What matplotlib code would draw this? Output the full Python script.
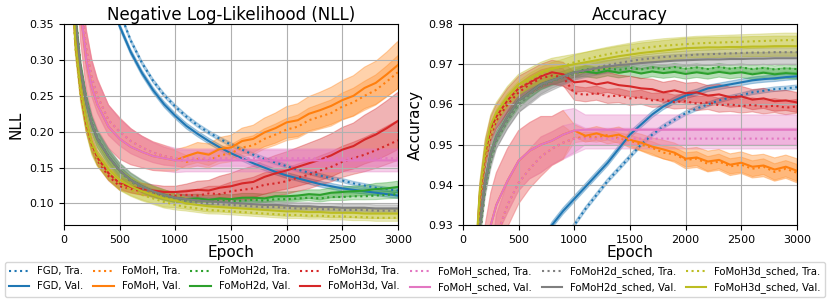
import matplotlib
matplotlib.use("Agg")
import matplotlib.pyplot as plt
from matplotlib.lines import Line2D

epochs = [0, 50, 100, 150, 200, 250, 300, 400, 500, 600, 700, 800, 900, 1000,
          1100, 1200, 1300, 1400, 1500, 1600, 1700, 1800, 1900, 2000,
          2100, 2200, 2300, 2400, 2500, 2600, 2700, 2800, 2900, 3000]

models = ["FGD", "FoMoH", "FoMoH2d", "FoMoH3d", "FoMoH_sched", "FoMoH2d_sched", "FoMoH3d_sched"]
colors = ["tab:blue", "tab:orange", "tab:green", "tab:red", "tab:pink", "tab:gray", "tab:olive"]

# ---------------- NLL ----------------
nll_fgd_tra = [2.4, 1.6, 1.1, 0.86, 0.7, 0.6, 0.52, 0.43, 0.367, 0.327, 0.296, 0.271, 0.251, 0.235,
               0.221, 0.209, 0.199, 0.19, 0.182, 0.175, 0.168, 0.162, 0.157, 0.152,
               0.147, 0.143, 0.139, 0.135, 0.132, 0.128, 0.125, 0.122, 0.12, 0.118]
nll_fgd_val = [2.3, 1.5, 1.0, 0.8, 0.65, 0.56, 0.49, 0.4, 0.347, 0.311, 0.282, 0.258, 0.238, 0.222,
               0.208, 0.197, 0.187, 0.178, 0.17, 0.163, 0.156, 0.15, 0.144, 0.139,
               0.135, 0.131, 0.127, 0.124, 0.121, 0.119, 0.117, 0.115, 0.113, 0.111]

nll_fomoh_sched_tra = [2.0, 0.9, 0.52, 0.385, 0.315, 0.275, 0.25, 0.216, 0.2, 0.187, 0.178, 0.171, 0.166, 0.163,
                       0.163, 0.163, 0.163, 0.163, 0.163, 0.163, 0.163, 0.163, 0.163, 0.163,
                       0.163, 0.163, 0.163, 0.163, 0.163, 0.163, 0.163, 0.163, 0.163, 0.163]
nll_fomoh_sched_val = [2.0, 0.88, 0.5, 0.37, 0.3, 0.262, 0.238, 0.207, 0.19, 0.179, 0.172, 0.166, 0.163, 0.16,
                       0.16, 0.16, 0.16, 0.16, 0.16, 0.16, 0.16, 0.16, 0.16, 0.16,
                       0.16, 0.16, 0.16, 0.16, 0.16, 0.16, 0.16, 0.16, 0.16, 0.16]
nll_fomoh_tra = nll_fomoh_sched_tra[:14] + [
    0.158, 0.162, 0.16, 0.167, 0.17, 0.178, 0.181, 0.19, 0.196, 0.203,
    0.207, 0.216, 0.221, 0.226, 0.235, 0.241, 0.25, 0.258, 0.27, 0.283]
nll_fomoh_val = nll_fomoh_sched_val[:14] + [
    0.166, 0.171, 0.168, 0.176, 0.178, 0.187, 0.19, 0.199, 0.205, 0.213,
    0.216, 0.225, 0.23, 0.236, 0.244, 0.25, 0.261, 0.268, 0.28, 0.293]

nll_fomoh2d_sched_tra = [2.0, 0.56, 0.37, 0.29, 0.245, 0.213, 0.192, 0.165, 0.145, 0.131, 0.121, 0.114, 0.109, 0.105,
                         0.103, 0.101, 0.1, 0.099, 0.098, 0.097, 0.096, 0.095, 0.095, 0.094,
                         0.093, 0.093, 0.092, 0.092, 0.091, 0.091, 0.091, 0.09, 0.09, 0.09]
nll_fomoh2d_sched_val = [2.0, 0.55, 0.36, 0.285, 0.24, 0.21, 0.19, 0.165, 0.146, 0.133, 0.124, 0.117, 0.112, 0.108,
                         0.106, 0.104, 0.103, 0.102, 0.101, 0.1, 0.099, 0.098, 0.098, 0.097,
                         0.096, 0.096, 0.095, 0.095, 0.094, 0.094, 0.094, 0.093, 0.093, 0.093]
nll_fomoh2d_tra = nll_fomoh2d_sched_tra[:14] + [
    0.103, 0.104, 0.102, 0.104, 0.103, 0.104, 0.105, 0.104, 0.106, 0.106,
    0.107, 0.108, 0.107, 0.109, 0.109, 0.11, 0.11, 0.111, 0.112, 0.113]
nll_fomoh2d_val = nll_fomoh2d_sched_val[:14] + [
    0.106, 0.107, 0.105, 0.107, 0.106, 0.108, 0.108, 0.107, 0.11, 0.11,
    0.111, 0.113, 0.112, 0.115, 0.116, 0.117, 0.118, 0.12, 0.121, 0.123]

nll_fomoh3d_sched_tra = [2.0, 0.49, 0.32, 0.25, 0.208, 0.178, 0.162, 0.143, 0.128, 0.119, 0.112, 0.107, 0.102, 0.098,
                         0.095, 0.093, 0.091, 0.09, 0.089, 0.088, 0.087, 0.086, 0.085, 0.084,
                         0.084, 0.083, 0.083, 0.082, 0.082, 0.081, 0.081, 0.08, 0.08, 0.08]
nll_fomoh3d_sched_val = [2.0, 0.5, 0.33, 0.26, 0.215, 0.185, 0.168, 0.148, 0.133, 0.124, 0.117, 0.112, 0.107, 0.104,
                         0.1, 0.098, 0.096, 0.095, 0.094, 0.093, 0.092, 0.091, 0.09, 0.089,
                         0.089, 0.088, 0.088, 0.087, 0.087, 0.087, 0.086, 0.086, 0.086, 0.086]
nll_fomoh3d_tra = [2.0, 0.5, 0.33, 0.255, 0.21, 0.18, 0.16, 0.138, 0.124, 0.12, 0.117, 0.114, 0.112, 0.111,
                   0.112, 0.111, 0.114, 0.113, 0.117, 0.119, 0.121, 0.126, 0.128, 0.131,
                   0.136, 0.14, 0.146, 0.151, 0.158, 0.163, 0.168, 0.174, 0.181, 0.188]
nll_fomoh3d_val = [2.0, 0.5, 0.33, 0.258, 0.212, 0.183, 0.164, 0.142, 0.128, 0.123, 0.12, 0.118, 0.116, 0.116,
                   0.117, 0.119, 0.118, 0.122, 0.124, 0.128, 0.13, 0.137, 0.142, 0.146,
                   0.151, 0.156, 0.161, 0.167, 0.175, 0.18, 0.189, 0.196, 0.205, 0.215]

nll_band = {
    "FGD": 0.004,
    "FoMoH": [0.05, 0.05, 0.05, 0.045, 0.04, 0.037, 0.034, 0.03, 0.028, 0.025, 0.022, 0.02, 0.018, 0.015,
              0.013, 0.014, 0.015, 0.016, 0.017, 0.018, 0.019, 0.02, 0.021, 0.022,
              0.023, 0.024, 0.025, 0.026, 0.027, 0.028, 0.029, 0.03, 0.031, 0.033],
    "FoMoH2d": [0.012, 0.012, 0.012, 0.012, 0.012, 0.012, 0.012, 0.011, 0.01, 0.009, 0.008, 0.007, 0.007, 0.006,
                0.006, 0.006, 0.006, 0.006, 0.006, 0.006, 0.006, 0.006, 0.006, 0.006,
                0.006, 0.006, 0.007, 0.007, 0.007, 0.007, 0.007, 0.008, 0.008, 0.008],
    "FoMoH3d": [0.012, 0.012, 0.012, 0.012, 0.012, 0.011, 0.01, 0.009, 0.008, 0.008, 0.008, 0.008, 0.008, 0.008,
                0.01, 0.012, 0.014, 0.016, 0.018, 0.02, 0.022, 0.024, 0.025, 0.026,
                0.027, 0.028, 0.029, 0.03, 0.031, 0.032, 0.034, 0.036, 0.038, 0.04],
    "FoMoH_sched": [0.05, 0.05, 0.05, 0.045, 0.04, 0.037, 0.034, 0.03, 0.028, 0.025, 0.022, 0.02, 0.018, 0.017,
                    0.016, 0.016, 0.016, 0.016, 0.016, 0.016, 0.016, 0.016, 0.016, 0.016,
                    0.016, 0.016, 0.016, 0.016, 0.016, 0.016, 0.016, 0.016, 0.016, 0.016],
    "FoMoH2d_sched": [0.012, 0.012, 0.012, 0.012, 0.012, 0.012, 0.012, 0.012, 0.011, 0.01, 0.009, 0.008, 0.007, 0.006,
                      0.005, 0.005, 0.005, 0.005, 0.005, 0.005, 0.005, 0.005, 0.005, 0.005,
                      0.005, 0.005, 0.005, 0.005, 0.005, 0.005, 0.005, 0.005, 0.005, 0.005],
    "FoMoH3d_sched": [0.015, 0.015, 0.015, 0.015, 0.015, 0.015, 0.015, 0.015, 0.014, 0.013, 0.012, 0.012, 0.012, 0.01,
                      0.008, 0.008, 0.008, 0.007, 0.007, 0.007, 0.007, 0.007, 0.007, 0.007,
                      0.007, 0.007, 0.007, 0.007, 0.007, 0.007, 0.007, 0.007, 0.007, 0.007],
}

# ---------------- Accuracy ----------------
acc_fgd_tra = [0.5, 0.78, 0.84, 0.86, 0.87, 0.88, 0.885, 0.895, 0.903, 0.91, 0.916, 0.922, 0.926, 0.93,
               0.934, 0.9375, 0.941, 0.944, 0.947, 0.95, 0.9525, 0.9545, 0.9562, 0.9578,
               0.959, 0.96, 0.961, 0.9617, 0.9623, 0.963, 0.9634, 0.9638, 0.964, 0.9643]
acc_fgd_val = [0.5, 0.8, 0.85, 0.87, 0.88, 0.89, 0.895, 0.905, 0.912, 0.919, 0.925, 0.93, 0.9335, 0.9365,
               0.9395, 0.9425, 0.9455, 0.949, 0.9525, 0.955, 0.9575, 0.9595, 0.961, 0.9622,
               0.963, 0.964, 0.9645, 0.965, 0.9655, 0.966, 0.9663, 0.9665, 0.9668, 0.967]

acc_fomoh_sched_tra = [0.2, 0.68, 0.83, 0.875, 0.9, 0.915, 0.927, 0.935, 0.9405, 0.944, 0.947, 0.949, 0.9505, 0.9515,
                       0.9515, 0.9515, 0.9515, 0.9515, 0.9515, 0.9515, 0.9515, 0.9515, 0.9515, 0.9515,
                       0.9515, 0.9515, 0.9515, 0.9515, 0.9515, 0.9515, 0.9515, 0.9515, 0.9515, 0.9515]
acc_fomoh_sched_val = [0.2, 0.7, 0.85, 0.89, 0.922, 0.93, 0.935, 0.941, 0.946, 0.9485, 0.95, 0.951, 0.9525, 0.9535,
                       0.9537, 0.9537, 0.9537, 0.9537, 0.9537, 0.9537, 0.9537, 0.9537, 0.9537, 0.9537,
                       0.9537, 0.9537, 0.9537, 0.9537, 0.9537, 0.9537, 0.9537, 0.9537, 0.9537, 0.9537]
acc_fomoh_tra = acc_fomoh_sched_tra[:14] + [
    0.952, 0.9518, 0.9524, 0.9516, 0.951, 0.95, 0.9492, 0.948, 0.9476, 0.9462,
    0.9465, 0.9452, 0.9458, 0.9446, 0.945, 0.944, 0.9445, 0.9432, 0.944, 0.943]
acc_fomoh_val = acc_fomoh_sched_val[:14] + [
    0.9522, 0.9528, 0.952, 0.9525, 0.9512, 0.9505, 0.9495, 0.9488, 0.948, 0.9465,
    0.9468, 0.9458, 0.9462, 0.945, 0.9455, 0.9445, 0.9448, 0.9438, 0.9445, 0.9435]

acc_fomoh2d_sched_tra = [0.3, 0.79, 0.9, 0.927, 0.939, 0.946, 0.951, 0.956, 0.96, 0.9625, 0.9645, 0.9658, 0.9667, 0.9676,
                         0.9685, 0.9692, 0.9698, 0.9703, 0.9708, 0.9712, 0.9715, 0.9718, 0.972, 0.9722,
                         0.9724, 0.9725, 0.9726, 0.9727, 0.9728, 0.9729, 0.9729, 0.973, 0.973, 0.973]
acc_fomoh2d_sched_val = [0.3, 0.8, 0.905, 0.93, 0.941, 0.948, 0.952, 0.957, 0.961, 0.963, 0.965, 0.966, 0.967, 0.968,
                         0.9685, 0.969, 0.9694, 0.9698, 0.97, 0.9703, 0.9705, 0.9707, 0.9709, 0.971,
                         0.9711, 0.9712, 0.9712, 0.9713, 0.9713, 0.9714, 0.9714, 0.9715, 0.9715, 0.9715]
acc_fomoh2d_tra = acc_fomoh2d_sched_tra[:14] + [
    0.9688, 0.9684, 0.969, 0.9686, 0.9691, 0.9687, 0.9692, 0.9688, 0.9693, 0.9689,
    0.9692, 0.9688, 0.9693, 0.9689, 0.9692, 0.9688, 0.9691, 0.9687, 0.969, 0.9688]
acc_fomoh2d_val = acc_fomoh2d_sched_val[:14] + [
    0.9682, 0.9678, 0.9684, 0.9679, 0.9683, 0.9677, 0.9682, 0.9678, 0.9681, 0.9676,
    0.968, 0.9676, 0.9681, 0.9677, 0.968, 0.9675, 0.9679, 0.9675, 0.9678, 0.9676]

acc_fomoh3d_sched_tra = [0.3, 0.81, 0.912, 0.936, 0.947, 0.953, 0.957, 0.961, 0.964, 0.966, 0.9675, 0.9687, 0.9695, 0.9705,
                         0.9712, 0.9719, 0.9725, 0.973, 0.9735, 0.974, 0.9743, 0.9746, 0.9748, 0.975,
                         0.9752, 0.9753, 0.9754, 0.9755, 0.9756, 0.9757, 0.9758, 0.9759, 0.976, 0.976]
acc_fomoh3d_sched_val = [0.3, 0.82, 0.915, 0.938, 0.949, 0.955, 0.958, 0.962, 0.965, 0.9665, 0.968, 0.969, 0.9695, 0.97,
                         0.9705, 0.971, 0.9715, 0.972, 0.9724, 0.9728, 0.9731, 0.9734, 0.9737, 0.974,
                         0.9741, 0.9742, 0.9742, 0.9743, 0.9743, 0.9744, 0.9744, 0.9745, 0.9745, 0.9745]
acc_fomoh3d_tra = [0.3, 0.8, 0.91, 0.935, 0.946, 0.952, 0.956, 0.96, 0.963, 0.965, 0.9665, 0.9672, 0.9668, 0.9628,
                   0.9624, 0.9628, 0.962, 0.9622, 0.9615, 0.9618, 0.961, 0.9612, 0.9606, 0.9608,
                   0.9602, 0.9605, 0.9598, 0.96, 0.9596, 0.9599, 0.9594, 0.9597, 0.9592, 0.9595]
acc_fomoh3d_val = [0.3, 0.81, 0.913, 0.937, 0.948, 0.954, 0.957, 0.961, 0.964, 0.9655, 0.967, 0.968, 0.9675, 0.9655,
                   0.9658, 0.965, 0.9655, 0.9648, 0.9645, 0.964, 0.9638, 0.963, 0.9635, 0.9628,
                   0.963, 0.9622, 0.9625, 0.9618, 0.962, 0.9612, 0.9615, 0.9608, 0.961, 0.9605]

acc_band = {
    "FGD": 0.0008,
    "FoMoH": [0.008, 0.008, 0.008, 0.008, 0.008, 0.008, 0.008, 0.008, 0.0075, 0.007, 0.007, 0.006, 0.006, 0.0015,
              0.0016, 0.0017, 0.0018, 0.0019, 0.002, 0.0021, 0.0022, 0.0023, 0.0024, 0.0025,
              0.0025, 0.0026, 0.0026, 0.0027, 0.0027, 0.0028, 0.0028, 0.0029, 0.0029, 0.003],
    "FoMoH2d": 0.0013,
    "FoMoH3d": [0.003, 0.003, 0.003, 0.003, 0.003, 0.003, 0.003, 0.003, 0.003, 0.003, 0.003, 0.003, 0.003, 0.0025,
                0.0025, 0.0025, 0.0025, 0.0025, 0.0025, 0.0025, 0.0025, 0.0025, 0.0025, 0.0025,
                0.0025, 0.0025, 0.0025, 0.0025, 0.0025, 0.0025, 0.0025, 0.0025, 0.0025, 0.0025],
    "FoMoH_sched": [0.008, 0.008, 0.008, 0.008, 0.008, 0.008, 0.008, 0.008, 0.0075, 0.007, 0.007, 0.006, 0.006, 0.0055,
                    0.0037, 0.0037, 0.0037, 0.0037, 0.0037, 0.0037, 0.0037, 0.0037, 0.0037, 0.0037,
                    0.0037, 0.0037, 0.0037, 0.0037, 0.0037, 0.0037, 0.0037, 0.0037, 0.0037, 0.0037],
    "FoMoH2d_sched": [0.003, 0.003, 0.003, 0.003, 0.003, 0.003, 0.003, 0.003, 0.003, 0.003, 0.0028, 0.0025, 0.0022, 0.002,
                      0.0018, 0.0017, 0.0016, 0.0015, 0.0015, 0.0015, 0.0015, 0.0015, 0.0015, 0.0015,
                      0.0015, 0.0015, 0.0015, 0.0015, 0.0015, 0.0015, 0.0015, 0.0015, 0.0015, 0.0015],
    "FoMoH3d_sched": 0.0025,
}

nll_data = {
    "FGD": (nll_fgd_tra, nll_fgd_val),
    "FoMoH": (nll_fomoh_tra, nll_fomoh_val),
    "FoMoH2d": (nll_fomoh2d_tra, nll_fomoh2d_val),
    "FoMoH3d": (nll_fomoh3d_tra, nll_fomoh3d_val),
    "FoMoH_sched": (nll_fomoh_sched_tra, nll_fomoh_sched_val),
    "FoMoH2d_sched": (nll_fomoh2d_sched_tra, nll_fomoh2d_sched_val),
    "FoMoH3d_sched": (nll_fomoh3d_sched_tra, nll_fomoh3d_sched_val),
}
acc_data = {
    "FGD": (acc_fgd_tra, acc_fgd_val),
    "FoMoH": (acc_fomoh_tra, acc_fomoh_val),
    "FoMoH2d": (acc_fomoh2d_tra, acc_fomoh2d_val),
    "FoMoH3d": (acc_fomoh3d_tra, acc_fomoh3d_val),
    "FoMoH_sched": (acc_fomoh_sched_tra, acc_fomoh_sched_val),
    "FoMoH2d_sched": (acc_fomoh2d_sched_tra, acc_fomoh2d_sched_val),
    "FoMoH3d_sched": (acc_fomoh3d_sched_tra, acc_fomoh3d_sched_val),
}


def banda(valores, largura):
    if isinstance(largura, (int, float)):
        largura = [largura] * len(valores)
    baixo = [v - w for v, w in zip(valores, largura)]
    alto = [v + w for v, w in zip(valores, largura)]
    return baixo, alto


def desenhar(ax, dados, bandas):
    for nome, cor in zip(models, colors):
        tra, val = dados[nome]
        # faixa de treino um pouco mais estreita
        larg = bandas[nome]
        larg_tra = larg * 0.7 if isinstance(larg, float) else [w * 0.7 for w in larg]
        lo, hi = banda(tra, larg_tra)
        ax.fill_between(epochs, lo, hi, color=cor, alpha=0.3, linewidth=0.8)
        ax.plot(epochs, tra, color=cor, linestyle=':', linewidth=1.5)
        lo, hi = banda(val, larg)
        ax.fill_between(epochs, lo, hi, color=cor, alpha=0.35, linewidth=0.8)
        ax.plot(epochs, val, color=cor, linestyle='-', linewidth=1.5)
    ax.set_xlim(0, 3000)
    ax.grid(True)
    ax.tick_params(labelsize=8)


fig = plt.figure(figsize=(8.3, 2.99), dpi=100)
ax1 = fig.add_axes([0.0771, 0.2475, 0.4024, 0.672])
ax2 = fig.add_axes([0.5578, 0.2475, 0.4024, 0.672])

desenhar(ax1, nll_data, nll_band)
ax1.set_ylim(0.07, 0.35)
ax1.set_title("Negative Log-Likelihood (NLL)", fontsize=12, pad=3)
ax1.set_xlabel("Epoch", fontsize=11, labelpad=0)
ax1.set_ylabel("NLL", fontsize=11)

desenhar(ax2, acc_data, acc_band)
ax2.set_ylim(0.93, 0.98)
ax2.set_title("Accuracy", fontsize=12, pad=3)
ax2.set_xlabel("Epoch", fontsize=11, labelpad=0)
ax2.set_ylabel("Accuracy", fontsize=11)

handles = []
labels = []
for nome, cor in zip(models, colors):
    handles.append(Line2D([], [], color=cor, linestyle=':', linewidth=1.5))
    labels.append(f"{nome}, Tra.")
    handles.append(Line2D([], [], color=cor, linestyle='-', linewidth=1.5))
    labels.append(f"{nome}, Val.")

fig.legend(handles, labels, loc='lower left', bbox_to_anchor=(0.006, 0.006, 0.988, 0.13),
           mode='expand', ncol=7, fontsize=7.3, handlelength=2.0, borderaxespad=0.0)

fig.savefig("out.png", dpi=100)
